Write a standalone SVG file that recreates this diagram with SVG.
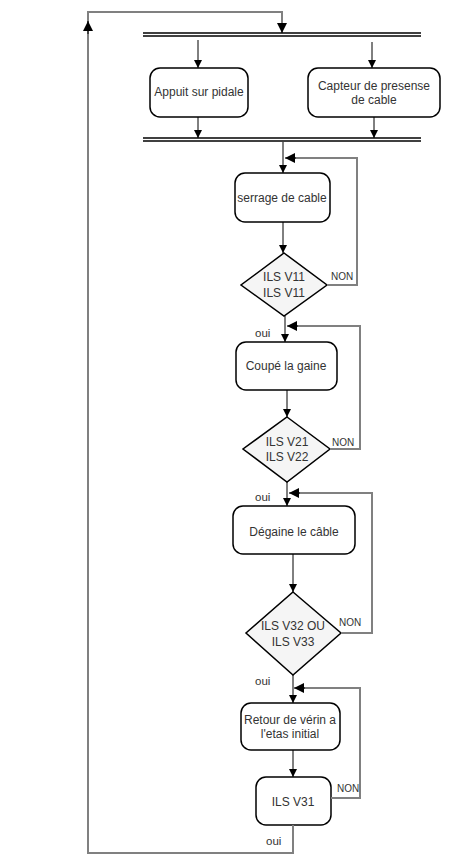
<svg xmlns="http://www.w3.org/2000/svg" width="449" height="865" viewBox="0 0 449 865">
<style>
.box{fill:#fff;stroke:#000;stroke-width:1.5}
.dia{fill:#f5f5f5;stroke:#000;stroke-width:1.5}
.bar{stroke:#000;stroke-width:1.5}
.t{font-family:"Liberation Sans",Arial,sans-serif;font-size:12px;fill:#333;text-anchor:middle}
.lbl{font-family:"Liberation Sans",Arial,sans-serif;font-size:10px;fill:#333}
.oui{font-family:"Liberation Sans",Arial,sans-serif;font-size:11.5px;fill:#333}
.main{stroke:#000;stroke-width:1;fill:none;marker-end:url(#ah)}
.loop{stroke:#808080;stroke-width:2;fill:none}
</style>
<defs>
<marker id="ah" viewBox="0 0 10 10" refX="10" refY="5" markerWidth="8" markerHeight="8" markerUnits="userSpaceOnUse" orient="auto">
<path d="M0,0 L10,5 L0,10 z" fill="#000"/>
</marker>
<marker id="ahb" viewBox="0 0 10 10" refX="10" refY="5" markerWidth="10" markerHeight="10" markerUnits="userSpaceOnUse" orient="auto">
<path d="M0,0 L10,5 L0,10 z" fill="#000"/>
</marker>
</defs>
<rect width="449" height="865" fill="#fff"/>

<g id="bar-top"><line class="bar" x1="143" y1="33" x2="421" y2="33"/><line class="bar" x1="143" y1="36" x2="421" y2="36"/></g>
<g id="bar-bottom"><line class="bar" x1="143" y1="138" x2="421" y2="138"/><line class="bar" x1="143" y1="141" x2="421" y2="141"/></g>

<g id="appuit"><rect class="box" x="150" y="68" width="98" height="49" rx="10"/><text class="t" x="199" y="96">Appuit sur pidale</text></g>
<g id="capteur"><rect class="box" x="308" y="68" width="132" height="49" rx="10"/><text class="t" x="374" y="90">Capteur de presense</text><text class="t" x="374" y="104">de cable</text></g>
<g id="serrage"><rect class="box" x="235" y="173" width="95" height="49" rx="10"/><text class="t" x="282" y="202">serrage de cable</text></g>
<g id="d1"><polygon class="dia" points="284,253 327,285 284,316 241,285"/><text class="t" x="284" y="281">ILS V11</text><text class="t" x="284" y="297">ILS V11</text></g>
<g id="coupe"><rect class="box" x="236" y="342" width="101" height="48" rx="10"/><text class="t" x="286" y="370">Coupé la gaine</text></g>
<g id="d2"><polygon class="dia" points="287,417 330,449 287,482 243,449"/><text class="t" x="287" y="446">ILS V21</text><text class="t" x="287" y="461">ILS V22</text></g>
<g id="degaine"><rect class="box" x="233" y="506" width="122" height="48" rx="10"/><text class="t" x="294" y="536">Dégaine le câble</text></g>
<g id="d3"><polygon class="dia" points="293,592 341,633 293,675 246,633"/><text class="t" x="293" y="630">ILS V32 OU</text><text class="t" x="293" y="646">ILS V33</text></g>
<g id="retour"><rect class="box" x="241" y="703" width="99" height="47" rx="10"/><text class="t" x="290" y="724">Retour de vérin a</text><text class="t" x="290" y="738">l'etas initial</text></g>
<g id="ils31"><rect class="box" x="256" y="777" width="75" height="48" rx="10"/><text class="t" x="293" y="806">ILS V31</text></g>

<g id="connectors">
<line class="main" x1="198" y1="40" x2="198" y2="68"/>
<line class="main" x1="372" y1="42" x2="372" y2="68"/>
<line class="main" x1="198" y1="117" x2="198" y2="138"/>
<line class="main" x1="374" y1="117" x2="374" y2="138"/>
<line class="main" x1="283" y1="142" x2="283" y2="173"/>
<line class="main" x1="283" y1="222" x2="283" y2="253"/>
<line class="main" x1="285" y1="316" x2="285" y2="342"/>
<line class="main" x1="287" y1="390" x2="287" y2="417"/>
<line class="main" x1="287" y1="482" x2="287" y2="506"/>
<line class="main" x1="293" y1="554" x2="293" y2="592"/>
<line class="main" x1="293" y1="675" x2="293" y2="703"/>
<line class="main" x1="293" y1="750" x2="293" y2="777"/>

<polyline class="loop" points="327,285 357,285 357,158 295,158"/>
<line x1="296" y1="158" x2="285" y2="158" stroke="#000" stroke-width="1" marker-end="url(#ahb)"/>
<polyline class="loop" points="330,449 360,449 360,326 297,326"/>
<line x1="298" y1="326" x2="287" y2="326" stroke="#000" stroke-width="1" marker-end="url(#ahb)"/>
<polyline class="loop" points="341,633 372,633 372,493 299,493"/>
<line x1="300" y1="493" x2="289" y2="493" stroke="#000" stroke-width="1" marker-end="url(#ahb)"/>
<polyline class="loop" points="331,798 360,798 360,688 304,688"/>
<line x1="305" y1="688" x2="294" y2="688" stroke="#000" stroke-width="1" marker-end="url(#ahb)"/>

<polyline class="loop" points="293,825 293,853 88,853 88,12 282,12 282,24"/>
<line x1="88" y1="34" x2="88" y2="21" stroke="#000" stroke-width="1" marker-end="url(#ahb)"/>
<line x1="282" y1="23" x2="282" y2="33" stroke="#000" stroke-width="1" marker-end="url(#ahb)"/>

<text class="lbl" x="331" y="280">NON</text>
<text class="lbl" x="332" y="446">NON</text>
<text class="lbl" x="339" y="626">NON</text>
<text class="lbl" x="337" y="792">NON</text>
<text class="oui" x="255" y="337">oui</text>
<text class="oui" x="255" y="501">oui</text>
<text class="oui" x="255" y="685">oui</text>
<text class="oui" x="266" y="845">oui</text>
</g>
</svg>
